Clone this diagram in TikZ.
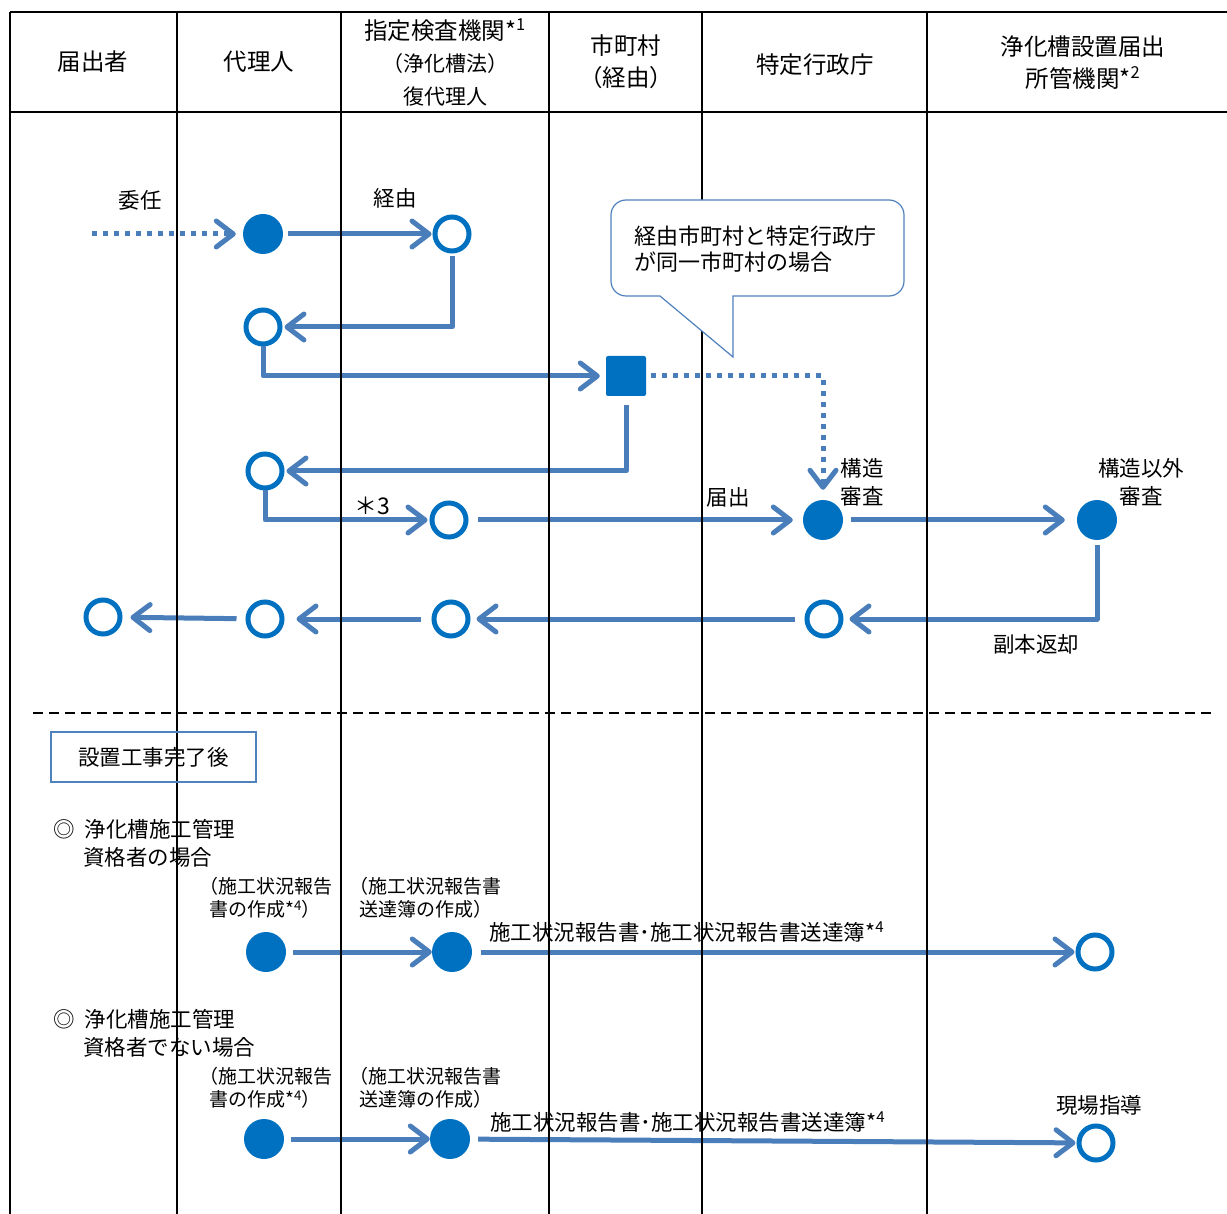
\documentclass[tikz,border=0pt]{standalone}
\usepackage{fontspec}
\setmainfont{Noto Sans CJK JP}
\usetikzlibrary{arrows.meta}
\definecolor{nblue}{HTML}{0070C0}
\definecolor{ablue}{HTML}{4A7EBB}
\definecolor{cblue}{HTML}{4F81BD}
\begin{document}
\begin{tikzpicture}[x=1pt,y=-1pt,
  fdot/.style={circle,fill=nblue,minimum size=40pt,inner sep=0pt},
  odot/.style={circle,draw=nblue,line width=5pt,fill=white,minimum size=34pt,inner sep=0pt},
  sqbox/.style={rectangle,rounded corners=2pt,fill=nblue,minimum width=40pt,minimum height=40pt,inner sep=0pt},
  tipb/.style={-{Straight Barb[length=17pt,width=26pt,round]}},
  arr/.style={draw=ablue,line width=5pt,line join=round,tipb,shorten <=6pt,shorten >=2pt},
  dotarr/.style={draw=ablue,line width=5pt,dash pattern=on 5pt off 6pt,tipb,shorten <=5pt,shorten >=4pt},
  colline/.style={draw=black,line width=2pt},
  hd/.style={font=\fontsize{23.5}{26}\selectfont,inner sep=0pt},
  hds/.style={font=\fontsize{21}{24}\selectfont,inner sep=0pt},
  lab/.style={font=\fontsize{21.5}{26}\selectfont,inner sep=0pt},
  labs/.style={font=\fontsize{19}{23}\selectfont,inner sep=0pt,align=left,anchor=west},
  lab2/.style={font=\fontsize{21.5}{28}\selectfont,inner sep=0pt,align=center},
]
\useasboundingbox (0,0) rectangle (1227,1214);

% ---------- header texts ----------
\node[hd] (h1) at (93,62) {届出者};
\node[hd] (h2) at (259,62) {代理人};
\node[hd] (h3a) at (445,30) {指定検査機関*\textsuperscript{1}};
\node[hds] (h3b) at (445,64) {（浄化槽法）};
\node[hds] (h3c) at (445,97) {復代理人};
\node[hd] (h4a) at (626,46) {市町村};
\node[hd] (h4b) at (626,78) {（経由）};
\node[hd] (h5) at (815,65) {特定行政庁};
\node[hd] (h6a) at (1083,47) {浄化槽設置届出};
\node[hd] (h6b) at (1083,78) {所管機関*\textsuperscript{2}};

% ---------- flow nodes ----------
\coordinate (start) at (92,234);
\node[fdot] (f1) at (263,234) {};
\node[odot] (o1) at (452,234) {};
\node[odot] (o2) at (263,327) {};
\node[sqbox] (sq) at (626,376) {};
\node[odot] (o3) at (265,471) {};
\node[odot] (o4) at (449,520) {};
\node[fdot] (s1) at (823,520) {};
\node[fdot] (s2) at (1097,520) {};
\node[odot] (o5) at (824,619) {};
\node[odot] (o6) at (451,619) {};
\node[odot] (o7) at (265,619) {};
\node[odot] (o8) at (103,617) {};

\node[fdot] (g1) at (266,952) {};
\node[fdot] (g2) at (452,952) {};
\node[odot] (g3) at (1095,952) {};
\node[fdot] (k1) at (264,1139) {};
\node[fdot] (k2) at (450,1139) {};
\node[odot] (k3) at (1096,1143) {};

% ---------- connectors ----------
\draw[dotarr,shorten <=0pt,shorten >=7pt] (start) -- (f1);
\draw[arr,shorten <=5pt,shorten >=1pt] (f1) -- (o1);
\draw[arr,shorten <=3pt] (o1) |- (o2);
\draw[arr,shorten <=0pt,shorten >=6pt] (o2) |- (sq);
\draw[dotarr,shorten >=10pt] (sq) -| (s1);
\draw[arr,shorten <=9pt] (sq) |- (o3);
\draw[arr,shorten <=0pt] (o3) |- (o4);
\draw[arr,shorten <=9pt,shorten >=10pt] (o4) -- (s1);
\draw[arr,shorten <=8pt,shorten >=12pt] (s1) -- (s2);
\draw[arr,shorten <=5pt,shorten >=6pt] (s2) |- (o5);
\draw[arr,shorten <=10pt,shorten >=6pt] (o5) -- (o6);
\draw[arr,shorten <=11pt,shorten >=12pt] (o6) -- (o7);
\draw[arr,shorten <=9pt,shorten >=8pt] (o7) -- (o8);

\draw[arr,shorten <=7pt,shorten >=0pt] (g1) -- (g2);
\draw[arr,shorten <=9pt,shorten >=1pt] (g2) -- (g3);
\draw[arr,shorten <=7pt,shorten >=0pt] (k1) -- (k2);
\draw[arr,shorten <=8pt,shorten >=1pt] (k2) -- (k3);

% ---------- table lines ----------
\draw[colline] (10,12) -- (1227,12);
\draw[colline] (10,112) -- (1227,112);
\foreach \cx in {10,177,341,549,702,927}{
  \draw[colline] (\cx,12) -- (\cx,1214);
}
\draw[black,line width=2.2pt,dash pattern=on 10pt off 6pt] (33,713) -- (1214,713);

% ---------- callout ----------
\draw[cblue,line width=1.2pt,fill=white]
  (660,296) -- (733,357) -- (733,296)
  [rounded corners=15pt] -- (904,296) -- (904,200) -- (611,200) -- (611,296)
  [sharp corners] -- cycle;
\node[lab,align=left,anchor=west,font=\fontsize{22}{26}\selectfont] (call) at (634,249)
  {経由市町村と特定行政庁\\が同一市町村の場合};

% ---------- labels ----------
\node[lab] (l1) at (140,200) {委任};
\node[lab] (l2) at (395,198) {経由};
\node[lab2] (l3) at (862,482) {構造\\審査};
\node[lab2] (l4) at (1141,482) {構造以外\\審査};
\node[lab] (l5) at (728,497) {届出};
\node[lab,font=\fontsize{23}{26}\selectfont] (l6) at (372,506) {＊3};
\node[lab] (l7) at (1036,644) {副本返却};

\node[lab,draw=cblue,line width=1.2pt,minimum width=205pt,minimum height=50pt] (after) at (153.5,757) {設置工事完了後};

\node[lab,anchor=west] (c1a) at (53,829) {◎\hspace{10pt}浄化槽施工管理};
\node[lab,anchor=west] (c1b) at (83,857) {資格者の場合};
\node[labs] (p1) at (209,898) {\hspace*{-10pt}（施工状況報告\\書の作成*\textsuperscript{4}）};
\node[labs] (p2) at (359,898) {\hspace*{-10pt}（施工状況報告書\\送達簿の作成）};
\node[lab,anchor=west] (t1) at (489,932) {施工状況報告書･施工状況報告書送達簿*\textsuperscript{4}};

\node[lab,anchor=west] (c2a) at (53,1019) {◎\hspace{10pt}浄化槽施工管理};
\node[lab,anchor=west] (c2b) at (83,1047) {資格者でない場合};
\node[labs] (p3) at (209,1088) {\hspace*{-10pt}（施工状況報告\\書の作成*\textsuperscript{4}）};
\node[labs] (p4) at (359,1088) {\hspace*{-10pt}（施工状況報告書\\送達簿の作成）};
\node[lab,anchor=west] (t2) at (490,1122) {施工状況報告書･施工状況報告書送達簿*\textsuperscript{4}};
\node[lab] (l8) at (1099,1105) {現場指導};
\end{tikzpicture}
\end{document}
